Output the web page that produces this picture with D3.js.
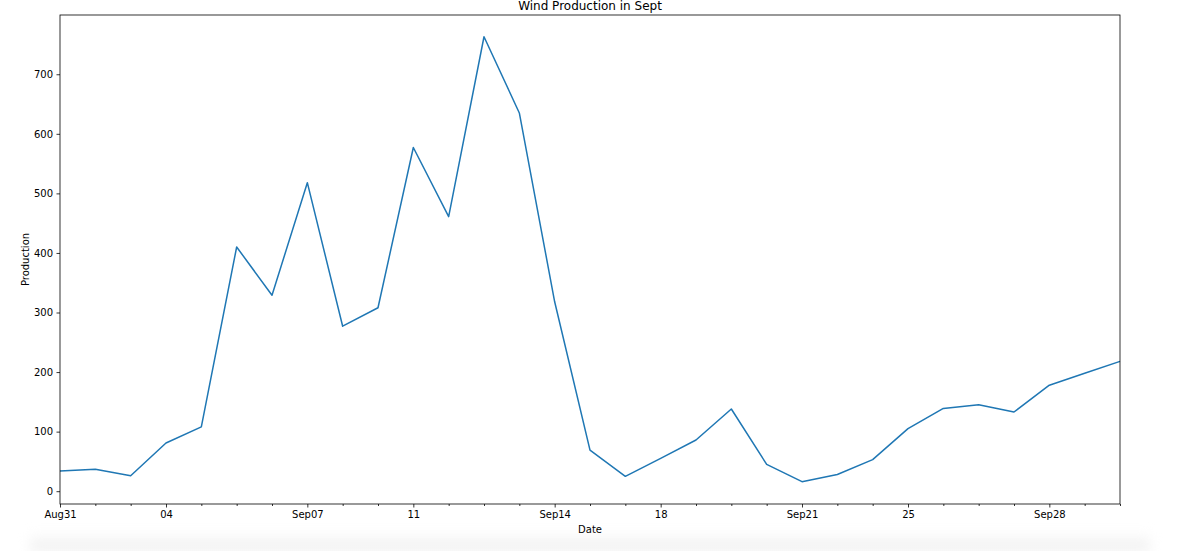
<html>
<head>
<script src="https://d3js.org/d3.v7.min.js"></script>
<style>
  body { margin: 0; background: #fff; }
  text { font-family: "DejaVu Sans", sans-serif; }
  #shade {
    position: absolute; left: 30px; right: 30px; top: 532px; height: 19px;
    background: linear-gradient(to bottom, rgba(235,235,235,0), rgba(235,235,235,0.9));
    filter: blur(6px);
  }
</style>
</head>
<body>
<div id="shade"></div>
<svg width="1180" height="551" style="position:absolute;left:0;top:0"></svg>
<script>
// days after Aug31 and the wind production values
var days = d3.range(0, 31);
var production = [34, 37, 26, 81, 108, 410, 329, 518, 277, 308, 577, 461, 763, 635, 318,
                  69, 25, 55, 86, 138, 45, 16, 28, 53, 105, 139, 145, 133, 178, 198, 218];

// x tick positions (day index) and the labels pandas printed there
var majorTicks = [0, 3, 7, 10, 14, 17, 21, 24, 28];
var majorLabels = ["Aug31", "04", "Sep07", "11", "Sep14", "18", "Sep21", "25", "Sep28"];
var yTicks = [0, 100, 200, 300, 400, 500, 600, 700];

var svg = d3.select("svg");

var x = d3.scaleLinear().domain([0, 30]).range([60, 1120]);
var y = d3.scaleLinear().domain([-21.5, 799.5]).range([504, 15]);

// line
var line = d3.line()
  .x(function(d, i) { return x(days[i]); })
  .y(function(d) { return y(d); });

svg.append("path")
  .datum(production)
  .attr("d", line)
  .attr("fill", "none")
  .attr("stroke", "#1f77b4")
  .attr("stroke-width", 1.5)
  .attr("stroke-linejoin", "round");

// frame
svg.append("rect")
  .attr("x", 60).attr("y", 15)
  .attr("width", 1060).attr("height", 489)
  .attr("fill", "none")
  .attr("stroke", "#000")
  .attr("stroke-width", 0.8);

// minor ticks every day
var minor = days.filter(function(d) { return majorTicks.indexOf(d) < 0; });
svg.append("g")
  .attr("transform", "translate(0,504)")
  .call(d3.axisBottom(x).tickValues(minor).tickSize(2).tickFormat(""))
  .call(function(g) { g.select(".domain").remove(); })
  .selectAll("line").attr("stroke-width", 0.8);

// major x ticks
var xa = svg.append("g")
  .attr("transform", "translate(0,504)")
  .call(d3.axisBottom(x).tickValues(majorTicks).tickSize(3.5).tickPadding(3.5)
    .tickFormat(function(d, i) { return majorLabels[i]; }));
xa.select(".domain").remove();
xa.selectAll("line").attr("stroke-width", 0.8);
xa.selectAll("text").attr("font-size", 10).attr("font-family", "DejaVu Sans").attr("fill", "#000");

// y axis
var ya = svg.append("g")
  .attr("transform", "translate(60,0)")
  .call(d3.axisLeft(y).tickValues(yTicks).tickSize(3.5).tickPadding(3.5));
ya.select(".domain").remove();
ya.selectAll("line").attr("stroke-width", 0.8);
ya.selectAll("text").attr("font-size", 10).attr("font-family", "DejaVu Sans").attr("fill", "#000");

// labels
svg.append("text")
  .attr("x", 590).attr("y", 533)
  .attr("text-anchor", "middle")
  .attr("font-size", 10)
  .text("Date");

svg.append("text")
  .attr("transform", "translate(29,259.5) rotate(-90)")
  .attr("text-anchor", "middle")
  .attr("font-size", 10)
  .text("Production");

svg.append("text")
  .attr("x", 590).attr("y", 10)
  .attr("text-anchor", "middle")
  .attr("font-size", 12)
  .text("Wind Production in Sept");
</script>
</body>
</html>
